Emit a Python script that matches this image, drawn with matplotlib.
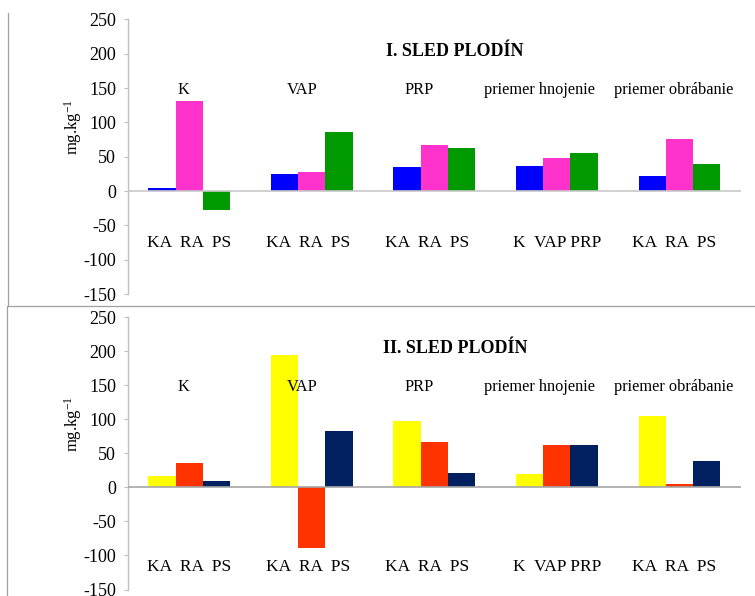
import matplotlib
matplotlib.use("Agg")
import matplotlib.pyplot as plt
from matplotlib.lines import Line2D
import numpy as np

plt.rcParams['font.family'] = ['Liberation Serif', 'DejaVu Serif']
plt.rcParams['mathtext.default'] = 'regular'
plt.rcParams['axes.unicode_minus'] = False

# groups along x
groups = ['K', 'VAP', 'PRP', 'priemer hnojenie', 'priemer obrábanie']
sub_labels = ['KA  RA  PS', 'KA  RA  PS', 'KA  RA  PS', 'K  VAP PRP', 'KA  RA  PS']

# I. sled plodín (three bars per group)
sled1_a = [4, 25, 35, 36, 22]
sled1_b = [131, 28, 67, 48, 76]
sled1_c = [-27, 86, 62, 56, 40]

# II. sled plodín
sled2_a = [17, 194, 98, 20, 104]
sled2_b = [36, -89, 66, 62, 5]
sled2_c = [9, 83, 21, 62, 38]

colors1 = ['#0000ff', '#ff33cc', '#009900']
colors2 = ['#ffff00', '#ff3300', '#002060']

yticks = [-150, -100, -50, 0, 50, 100, 150, 200, 250]

# label placement (data units)
group_label_x = [-0.05, 0.92, 1.88, 2.86, 3.95]
sub_label_x = [0.0, 0.97, 1.94, 3.0, 3.96]


def draw_panel(ax, series, colors, title, sub_y, axis_gray):
    x = np.arange(len(groups))
    w = 1 / 4.5
    for i, (vals, c) in enumerate(zip(series, colors)):
        ax.bar(x + (i - 1) * w, vals, width=w, color=c, linewidth=0, zorder=2)
    ax.axhline(0, color=axis_gray, linewidth=1.2, zorder=3)
    ax.set_xlim(-0.5, len(groups) - 0.5)
    ax.set_ylim(-150, 250)
    ax.set_yticks(yticks)
    ax.set_xticks([])
    for s in ['top', 'right', 'bottom']:
        ax.spines[s].set_visible(False)
    ax.spines['left'].set_color('#bfbfbf')
    ax.spines['left'].set_linewidth(1.0)
    ax.tick_params(axis='y', direction='out', length=3, width=0.8,
                   color='#bfbfbf', labelsize=13, pad=5.5)
    ax.text(2.17, 204, title, ha='center', va='center', fontsize=13,
            fontweight='bold')
    for gx, g in zip(group_label_x, groups):
        ax.text(gx, 147, g, ha='center', va='center', fontsize=11.8)
    for sx, s in zip(sub_label_x, sub_labels):
        ax.text(sx, sub_y, s, ha='center', va='center', fontsize=12.5)
    ax.text(-0.089, 93, 'mg.kg$^{-1}$', rotation=90, ha='center', va='center',
            fontsize=12, transform=ax.get_yaxis_transform())


fig = plt.figure(figsize=(7.55, 5.96), dpi=100)
ax1 = fig.add_axes([0.1695, 0.5067, 0.8115, 0.4607])
ax2 = fig.add_axes([0.1695, 0.0109, 0.8115, 0.4572])

draw_panel(ax1, [sled1_a, sled1_b, sled1_c], colors1, 'I. SLED PLODÍN', -75, '#c8c8c8')
draw_panel(ax2, [sled2_a, sled2_b, sled2_c], colors2, 'II. SLED PLODÍN', -117, '#a6a6a6')

# chart frames
W, H = 755, 596
frame = dict(color='#a0a0a0', linewidth=0.9)
fig.add_artist(Line2D([8 / W, 8 / W], [1 - 12.7 / H, 1 - 306 / H], **frame))
fig.add_artist(Line2D([8 / W, 1.0], [1 - 306 / H, 1 - 306 / H], **frame))
fig.add_artist(Line2D([7.3 / W, 7.3 / W], [1 - 306 / H, 0.0], **frame))

fig.savefig('out.png', dpi=100)
